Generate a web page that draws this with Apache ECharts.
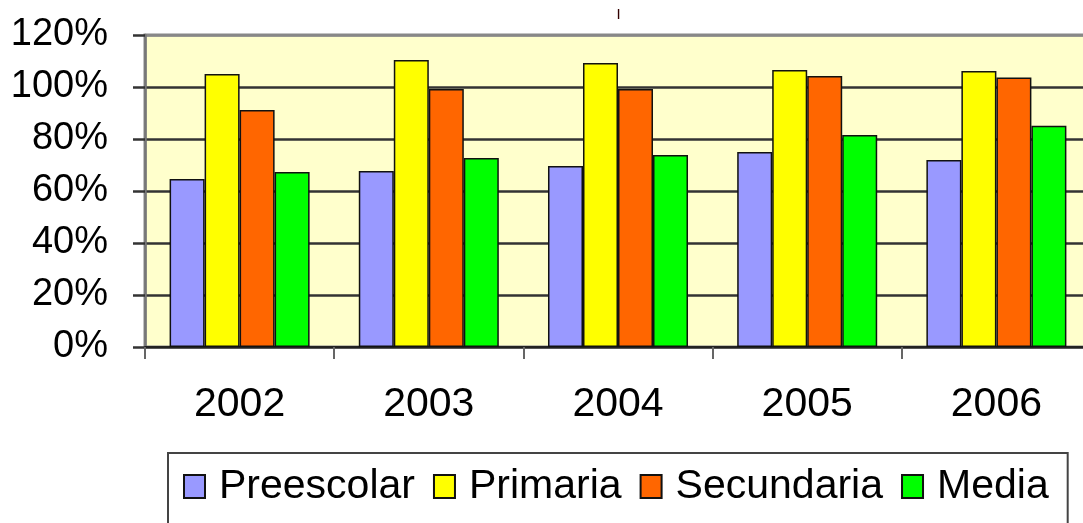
<!DOCTYPE html>
<html>
<head>
<meta charset="utf-8">
<script src="https://cdn.jsdelivr.net/npm/echarts@6/dist/echarts.min.js"></script>
<style>
  html, body { margin: 0; padding: 0; background: #fff; }
  #main { width: 1083px; height: 523px; }
</style>
</head>
<body>
<div id="main"></div>
<script>
// datos (porcentaje)
var years = ["2002", "2003", "2004", "2005", "2006"];
var preescolar = [64.6, 67.7, 69.6, 75.0, 71.9];
var primaria = [105.0, 110.4, 109.2, 106.5, 106.2];
var secundaria = [91.2, 99.2, 99.2, 104.2, 103.7];
var media = [67.3, 72.7, 73.8, 81.5, 85.1];
var yTicks = [0, 20, 40, 60, 80, 100, 120];

var myChart = echarts.init(document.getElementById("main"));
var font = "Liberation Sans, Arial, sans-serif";
var border = { borderColor: "#111", borderWidth: 1.5 };

function serie(name, data, color) {
  return {
    name: name,
    type: "bar",
    data: data,
    barGap: "0%",
    barCategoryGap: "26%",
    itemStyle: Object.assign({ color: color }, border),
  };
}

var option = {
  animation: false,
  backgroundColor: "#ffffff",
  title: {
    text: "|",
    left: 612,
    top: 3,
    textStyle: { fontSize: 11, fontWeight: "bold", color: "#300", fontFamily: font },
  },
  grid: {
    left: 145,
    top: 35,
    bottom: 176,
    width: 946,
    outerBoundsMode: "none",
    containLabel: false,
    show: true,
    backgroundColor: "#FFFFCC",
    borderColor: "#888",
    borderWidth: 3,
  },
  legend: {
    data: ["Preescolar", "Primaria", "Secundaria", "Media"],
    left: 168,
    top: 453,
    padding: [13, 19, 60, 15],
    itemGap: 18,
    itemWidth: 21,
    itemHeight: 23,
    borderColor: "#444",
    borderWidth: 2,
    icon: "rect",
    textStyle: {
      fontSize: 41,
      color: "#000",
      fontFamily: font,
      padding: [0, 0, 0, 9],
    },
  },
  xAxis: {
    type: "category",
    data: years,
    axisLine: { lineStyle: { color: "#222", width: 2 } },
    axisTick: { show: true, length: 12, lineStyle: { color: "#666", width: 2 } },
    axisLabel: { fontSize: 41, color: "#000", fontFamily: font, margin: 37 },
  },
  yAxis: {
    type: "value",
    min: 0,
    max: 120,
    interval: 20,
    axisLine: { show: true, lineStyle: { color: "#777", width: 2.5 } },
    axisTick: { show: true, length: 12, lineStyle: { color: "#333", width: 2.5 } },
    axisLabel: {
      fontSize: 38,
      color: "#000",
      fontFamily: font,
      margin: 37,
      formatter: function (v) {
        return yTicks.indexOf(v) >= 0 ? v + "%" : "";
      },
    },
    splitLine: {
      show: true,
      lineStyle: {
        color: ["#333", "#333", "#333", "#333", "#333", "#333", "#888"],
        width: 2.5,
      },
    },
  },
  series: [
    serie("Preescolar", preescolar, "#9999FF"),
    serie("Primaria", primaria, "#FFFF00"),
    serie("Secundaria", secundaria, "#FF6600"),
    serie("Media", media, "#00FF00"),
  ],
};

myChart.setOption(option);
</script>
</body>
</html>
